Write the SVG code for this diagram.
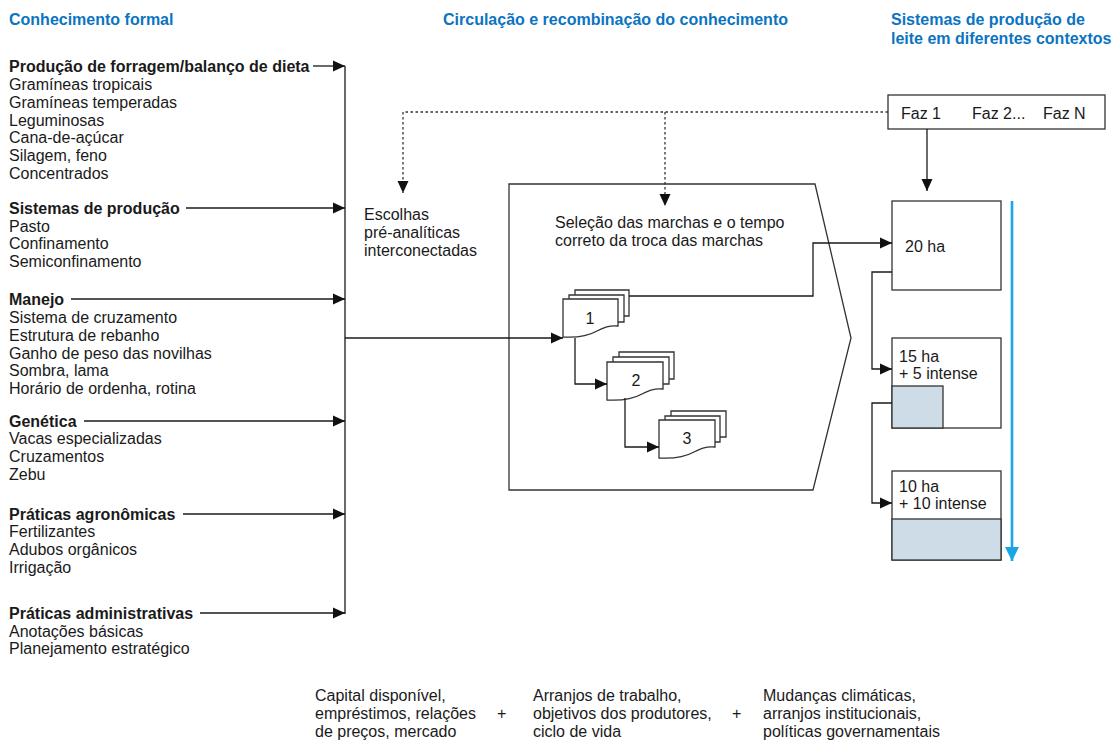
<svg xmlns="http://www.w3.org/2000/svg" width="1112" height="740" viewBox="0 0 1112 740">
<style>
text{font-family:"Liberation Sans",Arial,sans-serif;font-size:16px;fill:#1a1a1a}
.b{font-weight:bold}
.t{font-weight:bold;fill:#0b74c1}
.ln{fill:none;stroke:#1a1a1a;stroke-width:1.3}
.dot{fill:none;stroke:#333;stroke-width:1.3;stroke-dasharray:2.5 2.5}
.box{fill:#fff;stroke:#333;stroke-width:1.3}
.sh{fill:#cddce6;stroke:#333;stroke-width:1.3}
</style>
<defs>
<marker id="ah" markerUnits="userSpaceOnUse" markerWidth="12" markerHeight="12" viewBox="0 0 12 12" refX="12" refY="6" orient="auto"><path d="M0,0.5 L12,6 L0,11.5 Z" fill="#111"/></marker>
<marker id="ahb" markerUnits="userSpaceOnUse" markerWidth="14" markerHeight="14" viewBox="0 0 14 14" refX="14" refY="7" orient="auto"><path d="M0,0 L14,7 L0,14 Z" fill="#1aa5e6"/></marker>
</defs>

<g id="titles">
<text class="t" x="9" y="25">Conhecimento formal</text>
<text class="t" x="443" y="25">Circulação e recombinação do conhecimento</text>
<text class="t" x="891" y="25">Sistemas de produção de</text>
<text class="t" x="891" y="44">leite em diferentes contextos</text>
</g>

<g id="formal-knowledge">
<text class="b" x="9" y="72">Produção de forragem/balanço de dieta</text>
<text x="9" y="90">Gramíneas tropicais</text>
<text x="9" y="108">Gramíneas temperadas</text>
<text x="9" y="126">Leguminosas</text>
<text x="9" y="143">Cana-de-açúcar</text>
<text x="9" y="161">Silagem, feno</text>
<text x="9" y="179">Concentrados</text>

<text class="b" x="9" y="214">Sistemas de produção</text>
<text x="9" y="232">Pasto</text>
<text x="9" y="249">Confinamento</text>
<text x="9" y="267">Semiconfinamento</text>

<text class="b" x="9" y="305">Manejo</text>
<text x="9" y="323">Sistema de cruzamento</text>
<text x="9" y="341">Estrutura de rebanho</text>
<text x="9" y="359">Ganho de peso das novilhas</text>
<text x="9" y="376">Sombra, lama</text>
<text x="9" y="394">Horário de ordenha, rotina</text>

<text class="b" x="9" y="427">Genética</text>
<text x="9" y="444">Vacas especializadas</text>
<text x="9" y="462">Cruzamentos</text>
<text x="9" y="480">Zebu</text>

<text class="b" x="9" y="520">Práticas agronômicas</text>
<text x="9" y="537">Fertilizantes</text>
<text x="9" y="555">Adubos orgânicos</text>
<text x="9" y="573">Irrigação</text>

<text class="b" x="9" y="619">Práticas administrativas</text>
<text x="9" y="637">Anotações básicas</text>
<text x="9" y="654">Planejamento estratégico</text>
</g>

<g id="pre-analytic">
<text x="364" y="220">Escolhas</text>
<text x="364" y="238">pré-analíticas</text>
<text x="364" y="256">interconectadas</text>
</g>

<g id="gear-box">
<path class="box" d="M509,184 L815,184 L851,338 L813,490 L509,490 Z"/>
<text x="555" y="228">Seleção das marchas e o tempo</text>
<text x="555" y="246">correto da troca das marchas</text>
</g>

<g id="doc1">
<path class="box" d="M575,290 L629,290 L629,316 L575,316 Z"/>
<path class="box" d="M569,295 L624,295 L624,322 L569,322 Z"/>
<path class="box" d="M563,299 L618,299 L618,326 C610,325 604,327 597,331 C588,336 578,338 563,337 Z"/>
<text x="590" y="324" text-anchor="middle">1</text>
</g>
<g id="doc2">
<path class="box" d="M619,352 L674,352 L674,379 L619,379 Z"/>
<path class="box" d="M613,357 L669,357 L669,384 L613,384 Z"/>
<path class="box" d="M607,362 L663,362 L663,389 C655,388 649,390 642,394 C633,399 623,401 607,400 Z"/>
<text x="636" y="386" text-anchor="middle">2</text>
</g>
<g id="doc3">
<path class="box" d="M671,411 L726,411 L726,437 L671,437 Z"/>
<path class="box" d="M665,416 L720,416 L720,442 L665,442 Z"/>
<path class="box" d="M659,420 L715,420 L715,447 C707,446 701,448 694,452 C685,457 675,459 659,458 Z"/>
<text x="687" y="444" text-anchor="middle">3</text>
</g>

<g id="farms">
<rect class="box" x="888" y="95" width="217" height="34"/>
<text x="901" y="119">Faz 1</text>
<text x="972" y="119">Faz 2...</text>
<text x="1043" y="119">Faz N</text>
</g>
<g id="farm-20">
<rect class="box" x="892" y="201" width="109" height="89"/>
<text x="905" y="252">20 ha</text>
</g>
<g id="farm-15">
<rect class="box" x="892" y="338" width="109" height="90"/>
<rect class="sh" x="892" y="386" width="51" height="42"/>
<text x="899" y="362">15 ha</text>
<text x="899" y="379">+ 5 intense</text>
</g>
<g id="farm-10">
<rect class="box" x="892" y="471" width="109" height="89"/>
<rect class="sh" x="892" y="519" width="109" height="41"/>
<text x="899" y="492">10 ha</text>
<text x="899" y="509">+ 10 intense</text>
</g>

<g id="context">
<text x="315" y="701">Capital disponível,</text>
<text x="315" y="719">empréstimos, relações</text>
<text x="315" y="737">de preços, mercado</text>
<text x="497" y="719">+</text>
<text x="533" y="701">Arranjos de trabalho,</text>
<text x="533" y="719">objetivos dos produtores,</text>
<text x="533" y="737">ciclo de vida</text>
<text x="732" y="719">+</text>
<text x="763" y="701">Mudanças climáticas,</text>
<text x="763" y="719">arranjos institucionais,</text>
<text x="763" y="737">políticas governamentais</text>
</g>

<g id="connectors">
<line class="ln" x1="345" y1="66" x2="345" y2="614"/>
<line class="ln" x1="313" y1="66" x2="345" y2="66" marker-end="url(#ah)"/>
<line class="ln" x1="186" y1="208" x2="345" y2="208" marker-end="url(#ah)"/>
<line class="ln" x1="71" y1="299" x2="345" y2="299" marker-end="url(#ah)"/>
<line class="ln" x1="84" y1="421" x2="345" y2="421" marker-end="url(#ah)"/>
<line class="ln" x1="183" y1="514" x2="345" y2="514" marker-end="url(#ah)"/>
<line class="ln" x1="200" y1="613" x2="345" y2="613" marker-end="url(#ah)"/>
<line class="ln" x1="345" y1="338" x2="563" y2="338" marker-end="url(#ah)"/>
<path class="ln" d="M575,338 L575,384 L607,384" marker-end="url(#ah)"/>
<path class="ln" d="M625,398 L625,447 L659,447" marker-end="url(#ah)"/>
<path class="ln" d="M629,296 L813,296 L813,243 L892,243" marker-end="url(#ah)"/>
<path class="dot" d="M888,112 L403,112 L403,193" marker-end="url(#ah)"/>
<path class="dot" d="M665,112 L665,206" marker-end="url(#ah)"/>
<line class="ln" x1="927" y1="129" x2="927" y2="191" marker-end="url(#ah)"/>
<path class="ln" d="M892,272 L872,272 L872,369 L892,369" marker-end="url(#ah)"/>
<path class="ln" d="M892,403 L872,403 L872,503 L892,503" marker-end="url(#ah)"/>
<line x1="1012" y1="201" x2="1012" y2="561" stroke="#1aa5e6" stroke-width="2.6" marker-end="url(#ahb)"/>
</g>
</svg>
